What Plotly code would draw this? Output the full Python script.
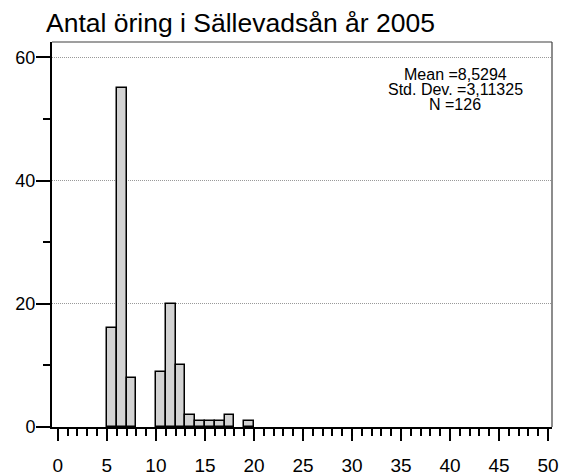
import plotly.graph_objects as go

# Data (bin width 1)
bin_starts = [5, 6, 7, 10, 11, 12, 13, 14, 15, 16, 17, 19]
counts = [16, 55, 8, 9, 20, 10, 2, 1, 1, 1, 2, 1]
bin_width = 1
title_text = "Antal öring i Sällevadsån år 2005"
stats_lines = ["Mean =8,5294", "Std. Dev. =3,11325", "N =126"]
x_ticks = [0, 5, 10, 15, 20, 25, 30, 35, 40, 45, 50]
y_ticks = [0, 20, 40, 60]

FONT = "Liberation Sans, Arial, Helvetica, sans-serif"
W, H = 562, 475
L, R, T, B = 52, 10, 42, 48

fig = go.Figure()
fig.add_trace(go.Bar(
    x=[s + bin_width / 2 for s in bin_starts],
    y=counts,
    width=bin_width,
    marker=dict(color="#d3d3d3", line=dict(color="black", width=1.5)),
    showlegend=False,
    hoverinfo="skip",
))

fig.update_layout(
    width=W, height=H,
    margin=dict(l=L, r=R, t=T, b=B, autoexpand=False),
    paper_bgcolor="white", plot_bgcolor="white",
    font=dict(family=FONT, color="black"),
    bargap=0,
    title=dict(text=title_text, x=46 / W, xanchor="left", xref="container",
               y=1 - 23 / H, yanchor="middle", yref="container",
               font=dict(size=26.5, family=FONT, color="black")),
    showlegend=False,
)

fig.update_xaxes(
    range=[-0.6, 50.4], automargin=False,
    tickvals=x_ticks, ticktext=[str(v) for v in x_ticks],
    ticks="outside", ticklen=12, tickwidth=2, tickcolor="black",
    minor=dict(dtick=1, tick0=0, ticks="outside", ticklen=7, tickwidth=1.5, tickcolor="black", showgrid=False),
    showline=True, linecolor="black", linewidth=2,
    showgrid=False, zeroline=False,
    tickfont=dict(size=19, family=FONT, color="black"),
    ticklabelstandoff=8,
)
fig.update_yaxes(
    range=[0, 62.5], automargin=False,
    tickvals=y_ticks, ticktext=[str(v) for v in y_ticks],
    ticks="outside", ticklen=14, tickwidth=2, tickcolor="black",
    minor=dict(dtick=10, tick0=0, ticks="outside", ticklen=7, tickwidth=1.5, tickcolor="black", showgrid=False),
    showline=True, linecolor="black", linewidth=2,
    showgrid=True, gridcolor="#999999", gridwidth=1, griddash="1px,1px",
    zeroline=False,
    tickfont=dict(size=18, family=FONT, color="black"),
    ticklabelstandoff=-3,
)

# thin frame on top and right
fig.add_shape(type="line", xref="paper", yref="paper", x0=0, x1=1, y0=1, y1=1,
              line=dict(color="#404040", width=1.2))
fig.add_shape(type="line", xref="paper", yref="paper", x0=1, x1=1, y0=0, y1=1,
              line=dict(color="#404040", width=1.2))

line_px = [74, 89, 104]
for txt, py in zip(stats_lines, line_px):
    fig.add_annotation(text=txt, xref="paper", yref="paper",
                       x=(455 - L) / (W - L - R), y=(H - B - py) / (H - T - B),
                       xanchor="center", yanchor="middle", showarrow=False,
                       font=dict(size=16, family=FONT, color="black"))

fig.write_html(
    "out.html",
    config={"displayModeBar": False},
    post_script="document.body.style.margin='0';document.body.style.padding='0';document.body.style.overflow='hidden';",
)
